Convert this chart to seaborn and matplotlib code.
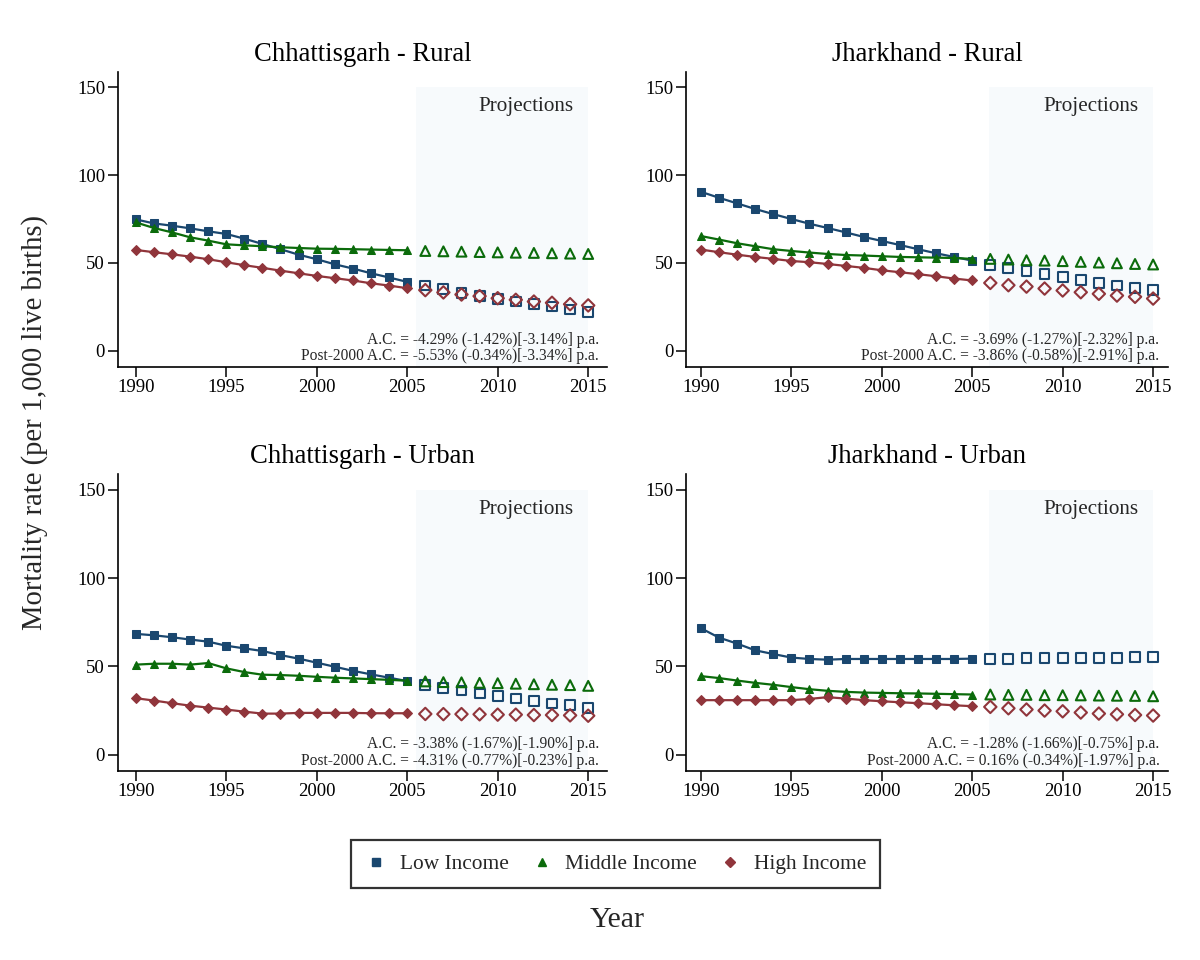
import numpy as np
import pandas as pd
import matplotlib
matplotlib.use("Agg")
import matplotlib.pyplot as plt
import seaborn as sns
from matplotlib.lines import Line2D

sns.set_theme(style="ticks")
plt.rcParams['font.family'] = ['Liberation Serif', 'DejaVu Serif']

years_obs = list(range(1990, 2006))
years_proj = list(range(2006, 2016))

panels = ["Chhattisgarh - Rural", "Jharkhand - Rural", "Chhattisgarh - Urban", "Jharkhand - Urban"]

# Observed (1990-2005)
cg_rural_low = [74.8, 72.5, 71.2, 69.7, 68.0, 66.5, 63.8, 60.8, 57.8, 54.7, 52.1, 49.2, 46.8, 44.1, 41.7, 39.2]
cg_rural_mid = [73.1, 69.9, 67.4, 64.6, 62.7, 60.6, 60.0, 59.5, 58.9, 58.5, 58.1, 58.0, 57.8, 57.6, 57.4, 57.2]
cg_rural_high = [57.4, 56.1, 54.9, 53.6, 52.1, 50.4, 48.7, 47.2, 45.6, 44.1, 42.6, 41.3, 40.0, 38.4, 37.1, 35.6]
jh_rural_low = [90.5, 87.1, 83.9, 80.7, 77.8, 75.0, 72.3, 69.9, 67.4, 64.8, 62.5, 60.2, 57.8, 55.5, 53.4, 51.3]
jh_rural_mid = [65.3, 63.3, 61.2, 59.5, 57.8, 56.8, 55.9, 55.1, 54.5, 54.2, 53.8, 53.4, 53.2, 53.0, 52.8, 52.3]
jh_rural_high = [57.6, 56.1, 54.7, 53.4, 52.3, 51.1, 50.4, 49.4, 48.3, 47.2, 45.8, 44.7, 43.6, 42.4, 41.1, 40.0]
cg_urban_low = [68.4, 67.6, 66.5, 65.2, 64.0, 61.7, 60.2, 58.7, 56.4, 54.4, 52.1, 49.8, 47.5, 45.5, 43.6, 41.7]
cg_urban_mid = [51.0, 51.5, 51.5, 51.0, 51.9, 48.9, 46.8, 45.3, 45.1, 44.7, 44.1, 43.6, 43.2, 42.8, 42.4, 41.9]
cg_urban_high = [32.0, 30.7, 29.2, 27.8, 26.7, 25.6, 24.4, 23.3, 23.3, 23.7, 23.7, 23.7, 23.7, 23.5, 23.5, 23.5]
jh_urban_low = [71.6, 66.3, 62.9, 59.1, 57.0, 55.0, 54.2, 53.8, 54.2, 54.2, 54.2, 54.2, 54.2, 54.2, 54.2, 54.4]
jh_urban_mid = [44.5, 43.4, 42.0, 40.7, 39.6, 38.3, 37.1, 36.2, 35.6, 35.2, 35.0, 34.8, 34.7, 34.5, 34.3, 34.1]
jh_urban_high = [30.9, 30.9, 30.9, 30.9, 30.9, 30.9, 31.6, 32.6, 31.8, 30.9, 30.3, 29.7, 29.2, 28.6, 28.0, 27.5]

# Projections (2006-2015)
cg_rural_low_p = [37.1, 35.0, 32.8, 31.3, 29.4, 28.0, 26.5, 25.2, 23.5, 22.2]
cg_rural_mid_p = [56.8, 56.6, 56.4, 56.2, 56.0, 55.8, 55.7, 55.5, 55.3, 55.1]
cg_rural_high_p = [34.5, 33.2, 32.0, 31.1, 29.9, 29.0, 28.0, 27.3, 26.5, 25.8]
jh_rural_low_p = [48.9, 47.2, 45.6, 43.8, 42.0, 40.3, 38.6, 37.1, 35.8, 34.5]
jh_rural_mid_p = [52.3, 51.9, 51.5, 51.3, 51.0, 50.6, 50.2, 49.8, 49.4, 49.1]
jh_rural_high_p = [38.6, 37.3, 36.5, 35.4, 34.3, 33.3, 32.4, 31.4, 30.7, 29.7]
cg_urban_low_p = [39.4, 37.7, 36.4, 34.7, 33.1, 31.8, 30.5, 29.0, 28.0, 26.7]
cg_urban_mid_p = [41.5, 41.1, 41.0, 40.7, 40.5, 40.2, 39.9, 39.6, 39.4, 39.0]
cg_urban_high_p = [23.1, 23.0, 23.0, 22.9, 22.7, 22.7, 22.5, 22.5, 22.3, 22.1]
jh_urban_low_p = [54.4, 54.4, 54.6, 54.6, 54.7, 54.7, 54.7, 54.9, 55.1, 55.1]
jh_urban_mid_p = [34.1, 33.9, 33.9, 33.7, 33.7, 33.6, 33.5, 33.4, 33.3, 33.1]
jh_urban_high_p = [27.1, 26.3, 25.6, 25.0, 24.6, 23.9, 23.3, 22.9, 22.5, 22.2]

ac_text = [
    "A.C. = -4.29% (-1.42%)[-3.14%] p.a.\nPost-2000 A.C. = -5.53% (-0.34%)[-3.34%] p.a.",
    "A.C. = -3.69% (-1.27%)[-2.32%] p.a.\nPost-2000 A.C. = -3.86% (-0.58%)[-2.91%] p.a.",
    "A.C. = -3.38% (-1.67%)[-1.90%] p.a.\nPost-2000 A.C. = -4.31% (-0.77%)[-0.23%] p.a.",
    "A.C. = -1.28% (-1.66%)[-0.75%] p.a.\nPost-2000 A.C. = 0.16% (-0.34%)[-1.97%] p.a.",
]

groups = ["Low Income", "Middle Income", "High Income"]
colors = ["#1a476f", "#0b6b0b", "#90353b"]
markers = ["s", "^", "D"]

obs = [
    [cg_rural_low, cg_rural_mid, cg_rural_high],
    [jh_rural_low, jh_rural_mid, jh_rural_high],
    [cg_urban_low, cg_urban_mid, cg_urban_high],
    [jh_urban_low, jh_urban_mid, jh_urban_high],
]
proj = [
    [cg_rural_low_p, cg_rural_mid_p, cg_rural_high_p],
    [jh_rural_low_p, jh_rural_mid_p, jh_rural_high_p],
    [cg_urban_low_p, cg_urban_mid_p, cg_urban_high_p],
    [jh_urban_low_p, jh_urban_mid_p, jh_urban_high_p],
]

fig = plt.figure(figsize=(12, 9.6), dpi=100)
positions = [
    [0.098, 0.618, 0.408, 0.307],
    [0.572, 0.618, 0.401, 0.307],
    [0.098, 0.197, 0.408, 0.309],
    [0.572, 0.197, 0.401, 0.309],
]
xlims = [(1989.0, 2016.05), (1989.2, 2015.8), (1989.0, 2016.05), (1989.2, 2015.8)]
shade_start = [2005.5, 2005.9, 2005.5, 2005.9]
ylo, yhi = -9.1, 158.7

for i in range(4):
    ax = fig.add_axes(positions[i])
    ax.set_facecolor("white")
    ax.axvspan(shade_start[i], 2015, ymin=0, ymax=(150 - ylo) / (yhi - ylo),
               color="#f7fafc", lw=0, zorder=0)
    for g in range(3):
        dfo = pd.DataFrame({"Year": years_obs, "Rate": obs[i][g]})
        sns.lineplot(data=dfo, x="Year", y="Rate", ax=ax, color=colors[g],
                     marker=markers[g], markersize=5.2 if markers[g] != "D" else 4.6,
                     markeredgecolor=colors[g], linewidth=1.6, zorder=3)
        dfp = pd.DataFrame({"Year": years_proj, "Rate": proj[i][g]})
        sns.scatterplot(data=dfp, x="Year", y="Rate", ax=ax, marker=markers[g],
                        s=50 if markers[g] != "D" else 40, facecolor="none",
                        edgecolor=colors[g], linewidth=1.5, zorder=3)
    ax.set_xlim(*xlims[i])
    ax.set_ylim(ylo, yhi)
    ax.set_xticks([1990, 1995, 2000, 2005, 2010, 2015])
    ax.set_yticks([0, 50, 100, 150])
    ax.tick_params(axis="both", direction="out", length=7, width=1.1,
                   labelsize=13.5, colors="black", pad=2)
    sns.despine(ax=ax)
    for sp in ["left", "bottom"]:
        ax.spines[sp].set_linewidth(1.2)
        ax.spines[sp].set_color("black")
    ax.set_xlabel("")
    ax.set_ylabel("")
    ax.set_title(panels[i], fontsize=19.2, pad=8, color="black")
    ax.text(2014.2, 139, "Projections", ha="right", va="center", fontsize=15.2)
    ax.text(0.983, 0.008, ac_text[i], transform=ax.transAxes, ha="right",
            va="bottom", fontsize=11.2, linespacing=1.02)

fig.text(0.029, 0.56, "Mortality rate (per 1,000 live births)", rotation=90,
         ha="center", va="center", fontsize=20.6)
fig.text(0.514, 0.042, "Year", ha="center", va="center", fontsize=21.5)

handles = [Line2D([], [], linestyle="none", marker=markers[g], color=colors[g],
                  markersize=6 if markers[g] != "D" else 5) for g in range(3)]
leg = fig.legend(handles, groups, loc="center", bbox_to_anchor=(0.513, 0.1),
                 ncol=3, frameon=True, fancybox=False, fontsize=15.4,
                 handletextpad=0.6, columnspacing=1.05, borderpad=0.65,
                 handlelength=1.0)
leg.get_frame().set_edgecolor("black")
leg.get_frame().set_linewidth(1.6)

fig.savefig("out.png", dpi=100, facecolor="white")
